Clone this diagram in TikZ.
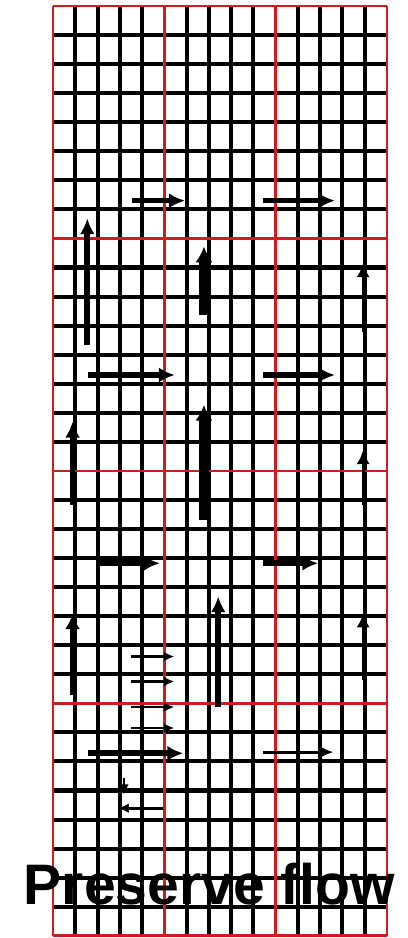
\documentclass[tikz,border=0pt]{standalone}
\usepackage{xcolor}
\usepackage{fontspec}
\setsansfont{Liberation Sans}
\usepackage{tikz}
\usetikzlibrary{arrows.meta}
\definecolor{gridred}{RGB}{204,30,30}

\begin{document}
\begin{tikzpicture}[
    x=0.02cm, y=-0.02cm,
    minorline/.style={line width=2.3pt, black},
    majorline/.style={line width=1.5pt, gridred},
    flow/.style={-{Latex[length=9pt, width=8.5pt]}, line width=3.2pt},
    fatflow/.style={-{Latex[length=9pt, width=10pt]}, line width=5.6pt},
    thinflow/.style={-{Latex[length=8pt, width=7.5pt]}, line width=1.8pt},
    tinyflow/.style={-{Latex[length=6pt, width=5.5pt]}, line width=1.5pt},
    caption/.style={font=\sffamily\bfseries\fontsize{32.5}{36}\selectfont, anchor=base, inner sep=0pt}
]
    \useasboundingbox (0,0) rectangle (408,938);
    \begin{scope}[shift={(53,6)}, x=0.4454cm, y=-0.5812cm]
        \foreach \c in {1,2,3,4,6,7,8,9,11,12,13,14}
            \draw[minorline] (\c,0) -- (\c,32);
        \foreach \r in {1,...,7,9,10,...,15,17,18,...,23,25,26,...,31}
            \draw[minorline] (0,\r) -- (15,\r);
        \foreach \c in {0,5,10,15}
            \draw[majorline] (\c,0) -- (\c,32);
        \foreach \r in {0,8,16,24,32}
            \draw[majorline] (0,\r) -- (15,\r);

        \draw[flow] (3.54,6.7) -- (5.93,6.7);
        \draw[flow] (9.42,6.7) -- (12.66,6.7);
        \draw[flow] (1.54,11.67) -- (1.54,7.31);
        \draw[fatflow] (6.78,10.63) -- (6.78,8.28);
        \draw[thinflow] (13.93,11.21) -- (13.93,8.85);

        \draw[flow] (1.59,12.7) -- (5.47,12.7);
        \draw[flow] (9.42,12.7) -- (12.66,12.7);
        \draw[flow] (0.88,17.17) -- (0.88,14.31);
        \draw[fatflow] (6.78,17.69) -- (6.78,13.73);
        \draw[thinflow] (13.93,17.17) -- (13.93,15.28);

        \draw[flow] (2.11,19.18) -- (4.8,19.18);
        \draw[flow] (9.44,19.18) -- (11.91,19.18);
        \draw[flow] (0.88,23.71) -- (0.88,20.9);
        \draw[flow] (7.42,24.12) -- (7.42,20.32);
        \draw[thinflow] (13.93,23.19) -- (13.93,20.9);

        \foreach \r in {22.39,23.25,24.13,24.85}
            \draw[tinyflow] (3.5,\r) -- (5.45,\r);

        \draw[flow] (1.59,25.72) -- (5.85,25.72);
        \draw[thinflow] (9.44,25.68) -- (12.59,25.68);
        \draw[tinyflow] (4.95,27.61) -- (2.93,27.61);
        \draw[tinyflow] (3.19,26.57) -- (3.19,27.15);

        \node[caption] (title) at (7.03,30.94) {Preserve flow};
    \end{scope}
\end{tikzpicture}
\end{document}
